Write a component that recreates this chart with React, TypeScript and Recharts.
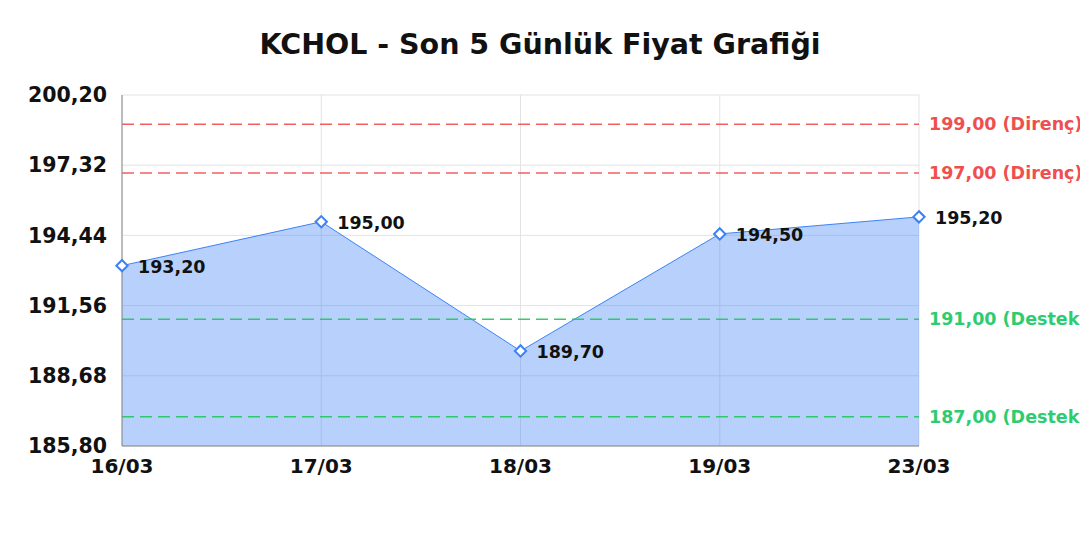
import { AreaChart, Area, XAxis, YAxis, CartesianGrid, ReferenceLine, LabelList } from 'recharts'

const dates = ['16/03', '17/03', '18/03', '19/03', '23/03']
const prices = [193.2, 195.0, 189.7, 194.5, 195.2]
const yTicks = [185.8, 188.68, 191.56, 194.44, 197.32, 200.2]
const resistance = [199, 197]
const support = [191, 187]

const data = dates.map((d, i) => ({ date: d, price: prices[i] }))

const fmt = (v: number) => v.toFixed(2).replace('.', ',')

const FONT = '"DejaVu Sans", sans-serif'

function Diamond(props: any) {
  const { cx, cy } = props
  if (cx == null || cy == null) return null
  return (
    <rect
      x={cx - 4}
      y={cy - 4}
      width={8}
      height={8}
      fill="#fff"
      stroke="#3b82f6"
      strokeWidth={2}
      transform={`rotate(45 ${cx} ${cy})`}
    />
  )
}

function PriceLabel(props: any) {
  const { x, y, value } = props
  return (
    <text x={x + 16} y={y + 2} dominantBaseline="middle" fontFamily={FONT} fontWeight="bold" fontSize={17.5} fill="#111">
      {fmt(value)}
    </text>
  )
}

export default function App() {
  return (
    <div style={{ position: 'absolute', left: 0, top: 0, width: 1080, height: 540, background: '#fff' }}>
      <div
        style={{
          position: 'absolute',
          top: 27,
          width: 1080,
          textAlign: 'center',
          fontFamily: FONT,
          fontWeight: 'bold',
          fontSize: 28.5,
          color: '#111',
          lineHeight: '36px',
        }}
      >
        KCHOL - Son 5 Günlük Fiyat Grafiği
      </div>
      <AreaChart width={1080} height={540} data={data} margin={{ top: 95, right: 161, left: 0, bottom: 64 }}>
        <CartesianGrid stroke="#e3e3e3" />
        <XAxis
          dataKey="date"
          height={30}
          axisLine={{ stroke: '#888' }}
          tickLine={false}
          tick={{ fontFamily: FONT, fontWeight: 'bold', fontSize: 20, fill: '#111' }}
          tickMargin={7}
          interval={0}
        />
        <YAxis
          width={122}
          domain={[185.8, 200.2]}
          ticks={yTicks}
          tickFormatter={fmt}
          axisLine={{ stroke: '#888' }}
          tickLine={false}
          tick={{ fontFamily: FONT, fontWeight: 'bold', fontSize: 20.5, fill: '#111' }}
          tickMargin={9}
        />
        <Area
          type="linear"
          dataKey="price"
          stroke="#3b82f6"
          strokeWidth={1}
          fill="#3b82f6"
          fillOpacity={0.37}
          dot={<Diamond />}
          activeDot={false}
          isAnimationActive={false}
        >
          <LabelList dataKey="price" content={<PriceLabel />} />
        </Area>
        {resistance.map((v) => (
          <ReferenceLine
            key={v}
            y={v}
            stroke="#ef4444"
            strokeOpacity={0.85}
            strokeWidth={1.5}
            strokeDasharray="12 6"
            label={{
              value: `${fmt(v)} (Direnç)`,
              position: 'right',
              offset: 10,
              fill: '#ef4f4f',
              fontFamily: FONT,
              fontWeight: 'bold',
              fontSize: 17.5,
            }}
          />
        ))}
        {support.map((v) => (
          <ReferenceLine
            key={v}
            y={v}
            stroke="#22c55e"
            strokeOpacity={0.9}
            strokeWidth={1.5}
            strokeDasharray="12 6"
            label={{
              value: `${fmt(v)} (Destek)`,
              position: 'right',
              offset: 10,
              fill: '#2ecc71',
              fontFamily: FONT,
              fontWeight: 'bold',
              fontSize: 17.5,
            }}
          />
        ))}
      </AreaChart>
    </div>
  )
}
